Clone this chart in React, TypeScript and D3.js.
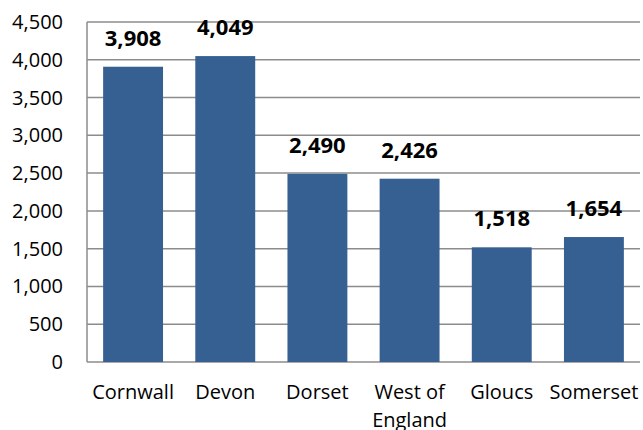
import * as d3 from 'd3'
import React from 'react'

const regions = ['Cornwall', 'Devon', 'Dorset', 'West of England', 'Gloucs', 'Somerset']
const counts = [3908, 4049, 2490, 2426, 1518, 1654]
const yTicks = [0, 500, 1000, 1500, 2000, 2500, 3000, 3500, 4000, 4500]

const W = 643
const H = 430
const margin = { top: 22, right: 3, bottom: 68, left: 87 }
const font = '"Open Sans", sans-serif'

const App = () => {
  const x = d3
    .scaleBand()
    .domain(regions)
    .range([margin.left, W - margin.right])
    .paddingInner(0.35)
    .paddingOuter(0.175)
  const y = d3
    .scaleLinear()
    .domain([0, 4500])
    .range([H - margin.bottom, margin.top])
  const fmt = d3.format(',')

  // wrap "West of England" onto two lines like the original
  const labelLines = (name: string) => (name === 'West of England' ? ['West of', 'England'] : [name])

  return (
    <div style={{ position: 'fixed', left: 0, top: 0 }}>
      <svg width={W} height={H} style={{ display: 'block', background: '#fff' }}>
        {yTicks.map((t) => (
          <g key={t}>
            <line
              x1={margin.left}
              x2={W - margin.right}
              y1={y(t)}
              y2={y(t)}
              stroke='#8c8c8c'
              strokeWidth={1.5}
            />
            <text
              x={63}
              y={y(t)}
              dy='0.35em'
              textAnchor='end'
              fontFamily={font}
              fontSize={20}
              fill='#000'
            >
              {fmt(t)}
            </text>
          </g>
        ))}
        <line
          x1={margin.left}
          x2={margin.left}
          y1={margin.top}
          y2={y(0)}
          stroke='#8c8c8c'
          strokeWidth={1.5}
        />
        {regions.map((r, i) => (
          <g key={r}>
            <rect
              x={x(r)}
              y={y(counts[i])}
              width={x.bandwidth()}
              height={y(0) - y(counts[i])}
              fill='#376092'
            />
            <text
              x={(x(r) || 0) + x.bandwidth() / 2}
              y={y(counts[i]) - 21}
              textAnchor='middle'
              fontFamily={font}
              fontWeight='bold'
              fontSize={22}
              fill='#000'
            >
              {fmt(counts[i])}
            </text>
            {labelLines(r).map((line, j) => (
              <text
                key={line}
                x={(x(r) || 0) + x.bandwidth() / 2}
                y={399 + j * 28}
                textAnchor='middle'
                fontFamily={font}
                fontSize={20}
                fill='#000'
              >
                {line}
              </text>
            ))}
          </g>
        ))}
      </svg>
    </div>
  )
}

export default App
